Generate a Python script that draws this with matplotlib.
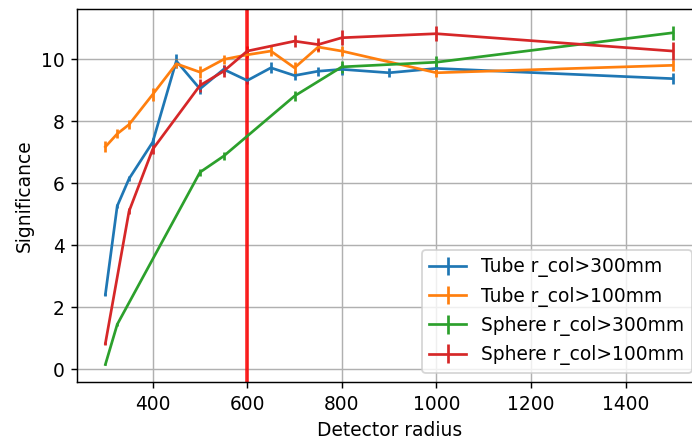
import numpy as np
import matplotlib
matplotlib.use("Agg")
import matplotlib.pyplot as plt

# significance vs detector radius for the two collimator shapes
tube300_r = [300, 325, 350, 400, 450, 500, 550, 600, 650, 700, 750, 800, 900, 1000, 1500]
tube300_sig = [2.42, 5.27, 6.15, 7.33, 9.95, 9.05, 9.68, 9.32, 9.73, 9.48, 9.62, 9.68, 9.57, 9.71, 9.38]
tube300_err = [0.04, 0.06, 0.08, 0.12, 0.22, 0.18, 0.15, 0.1, 0.18, 0.15, 0.15, 0.18, 0.15, 0.15, 0.18]

tube100_r = [300, 325, 350, 400, 450, 500, 550, 600, 650, 700, 750, 800, 1000, 1500]
tube100_sig = [7.18, 7.6, 7.9, 8.87, 9.86, 9.59, 10.0, 10.15, 10.27, 9.73, 10.4, 10.27, 9.57, 9.81]
tube100_err = [0.18, 0.15, 0.15, 0.2, 0.15, 0.2, 0.15, 0.1, 0.15, 0.2, 0.15, 0.15, 0.15, 0.18]

sphere300_r = [300, 325, 500, 550, 700, 800, 1000, 1500]
sphere300_sig = [0.16, 1.45, 6.36, 6.88, 8.82, 9.76, 9.91, 10.86]
sphere300_err = [0.02, 0.04, 0.12, 0.12, 0.15, 0.2, 0.2, 0.22]

sphere100_r = [300, 350, 400, 500, 550, 600, 700, 750, 800, 1000, 1500]
sphere100_sig = [0.84, 5.1, 7.1, 9.16, 9.62, 10.27, 10.59, 10.48, 10.7, 10.83, 10.27]
sphere100_err = [0.04, 0.1, 0.15, 0.2, 0.2, 0.15, 0.2, 0.2, 0.25, 0.25, 0.3]

cut_radius = 600

plt.rcParams['font.size'] = 10.3

fig = plt.figure(figsize=(692 / 130, 439 / 130), dpi=130)
ax = fig.add_axes([0.1113, 0.1298, 0.902, 0.8497])

ax.errorbar(tube300_r, tube300_sig, yerr=tube300_err, label="Tube r_col>300mm")
ax.errorbar(tube100_r, tube100_sig, yerr=tube100_err, label="Tube r_col>100mm")
ax.errorbar(sphere300_r, sphere300_sig, yerr=sphere300_err, label="Sphere r_col>300mm")
ax.errorbar(sphere100_r, sphere100_sig, yerr=sphere100_err, label="Sphere r_col>100mm")
ax.axvline(cut_radius, color="r", lw=2, alpha=0.85)

ax.set_xlabel("Detector radius")
ax.set_ylabel("Significance")
ax.grid()
ax.legend(loc="lower right")

fig.savefig("out.png", dpi=130)
